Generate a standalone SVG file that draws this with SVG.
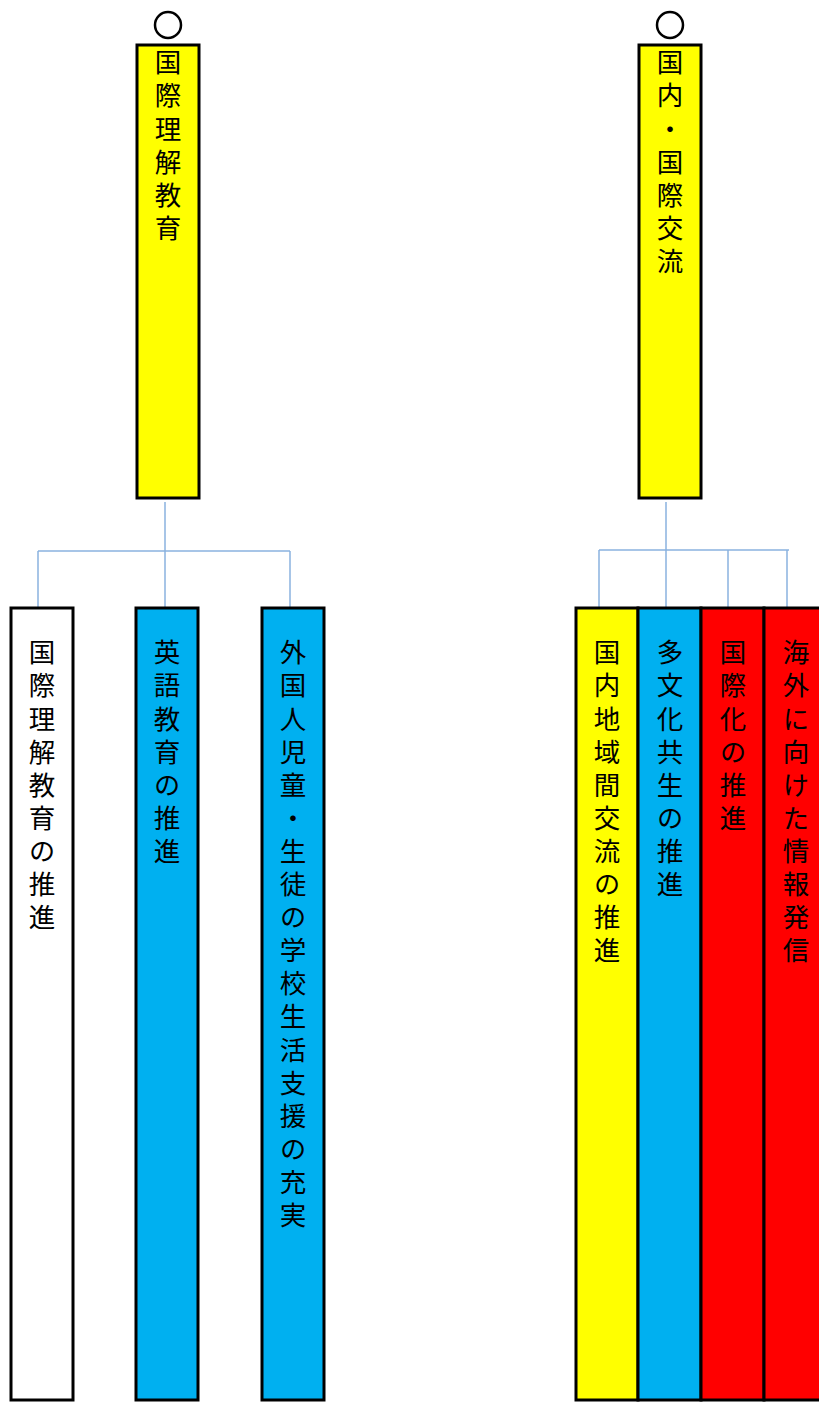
<svg xmlns="http://www.w3.org/2000/svg" width="819" height="1403" viewBox="0 0 819 1403">
<style>
.box{stroke:#000;stroke-width:3}
.y{fill:#FFFF00}.b{fill:#00B0F0}.r{fill:#FF0000}.w{fill:#FFFFFF}
.t{font-family:"Noto Sans CJK JP","Noto Sans CJK SC",sans-serif;font-size:26.5px;fill:#000;writing-mode:vertical-rl;text-orientation:upright;letter-spacing:6.6px}
.c{fill:none;stroke:#8AB2E0;stroke-width:1.5}
.o{fill:#fff;stroke:#000;stroke-width:2.5}
</style>
<g id="connectors">
<path class="c" d="M165 502V607M38 551H290M38 551V607M290 551V607"/>
<path class="c" d="M666 502V607M599 550H789M599 550V607M728 550V607M787 550V607"/>
</g>
<g id="n1"><circle class="o" cx="168" cy="25" r="13"/><rect class="box y" x="137" y="45" width="62" height="453"/><text class="t" x="168" y="49">国際理解教育</text></g>
<g id="n2"><circle class="o" cx="670" cy="25" r="13"/><rect class="box y" x="639" y="45" width="62" height="453"/><text class="t" x="670" y="49">国内・国際交流</text></g>
<g id="n3"><rect class="box w" x="11" y="608" width="62" height="792"/><text class="t" x="42" y="639">国際理解教育の推進</text></g>
<g id="n4"><rect class="box b" x="136" y="608" width="62" height="792"/><text class="t" x="167" y="639">英語教育の推進</text></g>
<g id="n5"><rect class="box b" x="262" y="608" width="62" height="792"/><text class="t" x="293" y="639">外国人児童・生徒の学校生活支援の充実</text></g>
<g id="n6"><rect class="box y" x="576" y="608" width="62" height="792"/><text class="t" x="607" y="639">国内地域間交流の推進</text></g>
<g id="n7"><rect class="box b" x="638" y="608" width="63" height="792"/><text class="t" x="670" y="639">多文化共生の推進</text></g>
<g id="n8"><rect class="box r" x="701" y="608" width="63" height="792"/><text class="t" x="733" y="639">国際化の推進</text></g>
<g id="n9"><rect class="box r" x="764" y="608" width="63" height="792"/><text class="t" x="796" y="639">海外に向けた情報発信</text></g>
</svg>
